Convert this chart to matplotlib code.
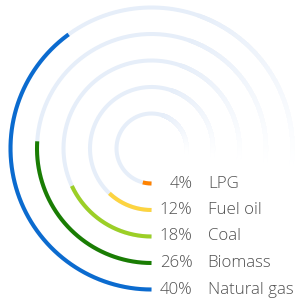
"""Radial bar chart of household fuel shares."""
import numpy as np
import matplotlib
matplotlib.use("Agg")
import matplotlib.pyplot as plt
from matplotlib.colors import to_rgb

fuels = ["LPG", "Fuel oil", "Coal", "Biomass", "Natural gas"]
shares = [4, 12, 18, 26, 40]
colors = ["#ff8200", "#fdd440", "#9ccf26", "#1a7d03", "#0b6bcf"]
radii = [35, 61.5, 88, 114.5, 141]

TRACK = "#e6eef9"
TEXT = "#505050"
LW = 2.9
W = 302

fig = plt.figure(figsize=(W / 100, W / 100), dpi=100)
cx, cy, rmax = 151.5, 148.5, 150
ax = fig.add_axes([(cx - rmax) / W, (W - cy - rmax) / W, 2 * rmax / W, 2 * rmax / W],
                  projection="polar")
ax.set_theta_zero_location("S")
ax.set_theta_direction(-1)
ax.set_ylim(0, rmax)
ax.axis("off")

track_rgb = np.array(to_rgb(TRACK))
solid_end = np.deg2rad(200)
fade_end = np.deg2rad(278)

for fuel, share, color, r in zip(fuels, shares, colors, radii):
    # background track, solid part then fading into white
    th = np.linspace(0, solid_end, 200)
    ax.plot(th, np.full_like(th, r), color=TRACK, lw=LW, solid_capstyle="butt", zorder=1)
    fth = np.linspace(solid_end, fade_end, 120)
    for i in range(len(fth) - 1):
        t = i / (len(fth) - 2)
        c = track_rgb + (1 - track_rgb) * t
        ax.plot(fth[i:i + 2], [r, r], color=c, lw=LW, solid_capstyle="projecting", zorder=1)

    # value arc
    end = np.deg2rad(share / 100 * 360)
    vth = np.linspace(0, end, 200)
    ax.plot(vth, np.full_like(vth, r), color=color, lw=LW, solid_capstyle="butt", zorder=2)

    ax.annotate(f"{share}%", xy=(0, r), xytext=(29.5, 0), textcoords="offset points",
                ha="right", va="center", fontsize=12.2, color=TEXT,
                family="Open Sans", fontweight=300, zorder=5)
    ax.annotate(fuel, xy=(0, r), xytext=(40.5, 0), textcoords="offset points",
                ha="left", va="center", fontsize=12.2, color=TEXT,
                family="Open Sans", fontweight=300, zorder=5)

fig.savefig("out.png", dpi=100, facecolor="white")
